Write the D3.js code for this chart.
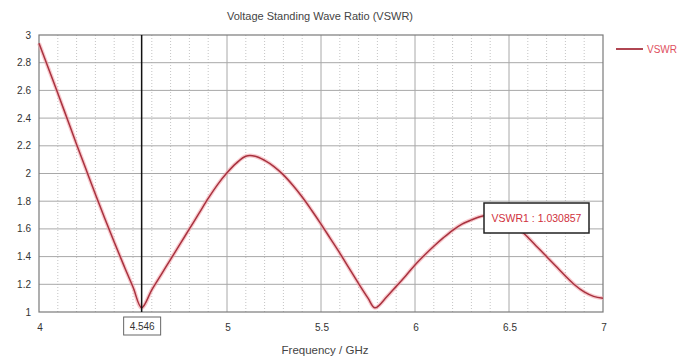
<!DOCTYPE html>
<html>
<head>
<meta charset="utf-8">
<script src="https://cdn.jsdelivr.net/npm/d3@7"></script>
<style>
  html, body { margin: 0; padding: 0; background: #fff; }
  svg { display: block; }
  text { font-family: "Liberation Sans", Arial, sans-serif; }
</style>
</head>
<body>
<svg id="chart" width="678" height="360"></svg>
<script>
// VSWR sweep, 4–7 GHz
const freqGHz = [4.00, 4.05, 4.10, 4.15, 4.20, 4.25, 4.30, 4.35, 4.40, 4.45, 4.50, 4.546,
  4.60, 4.65, 4.70, 4.75, 4.80, 4.85, 4.90, 4.95, 5.00, 5.05, 5.10, 5.15, 5.20, 5.25,
  5.30, 5.35, 5.40, 5.45, 5.50, 5.55, 5.60, 5.65, 5.70, 5.75, 5.787, 5.85, 5.90, 5.95,
  6.00, 6.05, 6.10, 6.15, 6.20, 6.25, 6.30, 6.35, 6.40, 6.45, 6.50, 6.55, 6.60, 6.65,
  6.70, 6.75, 6.80, 6.85, 6.90, 6.95, 7.00];
const vswr = [2.94, 2.76, 2.58, 2.395, 2.21, 2.03, 1.85, 1.675, 1.505, 1.34, 1.18, 1.030857,
  1.16, 1.27, 1.38, 1.49, 1.60, 1.71, 1.82, 1.92, 2.005, 2.075, 2.125, 2.125, 2.095, 2.05,
  1.99, 1.915, 1.83, 1.735, 1.635, 1.53, 1.425, 1.315, 1.205, 1.10, 1.03, 1.11, 1.185, 1.26,
  1.34, 1.41, 1.475, 1.535, 1.59, 1.635, 1.665, 1.69, 1.70, 1.69, 1.66, 1.605, 1.54, 1.47,
  1.40, 1.33, 1.26, 1.195, 1.145, 1.113, 1.10];

const xTicks = [4, 5, 5.5, 6, 6.5, 7];
const yTicks = [1, 1.2, 1.4, 1.6, 1.8, 2, 2.2, 2.4, 2.6, 2.8, 3];
const markerFreq = 4.546;
const markerValue = 1.030857;
const markerName = "VSWR1";

const svg = d3.select("#chart");
const m = { left: 39, right: 603, top: 35, bottom: 312 };

const x = d3.scaleLinear().domain([4, 7]).range([m.left, m.right]);
const y = d3.scaleLinear().domain([1, 3]).range([m.bottom, m.top]);

// minor vertical grid (0.1 GHz, dotted)
const minor = d3.range(41, 70).map(d => d / 10).filter(d => Math.abs(d * 2 - Math.round(d * 2)) > 1e-6 || d === 4.5);
svg.append("g").selectAll("line").data(minor).join("line")
  .attr("x1", d => x(d)).attr("x2", d => x(d))
  .attr("y1", m.top).attr("y2", m.bottom)
  .attr("stroke", "#c4c4c4").attr("stroke-width", 1)
  .attr("stroke-dasharray", "1,2");

// major vertical grid
svg.append("g").selectAll("line").data([5, 5.5, 6, 6.5]).join("line")
  .attr("x1", d => x(d)).attr("x2", d => x(d))
  .attr("y1", m.top).attr("y2", m.bottom)
  .attr("stroke", "#a8a8a8").attr("stroke-width", 1);

// horizontal grid
svg.append("g").selectAll("line").data(yTicks.slice(1, -1)).join("line")
  .attr("x1", m.left).attr("x2", m.right)
  .attr("y1", d => y(d)).attr("y2", d => y(d))
  .attr("stroke", "#a8a8a8").attr("stroke-width", 1);

// frame
svg.append("rect")
  .attr("x", m.left).attr("y", m.top)
  .attr("width", m.right - m.left).attr("height", m.bottom - m.top)
  .attr("fill", "none").attr("stroke", "#7a7a7a").attr("stroke-width", 1.2);

// y axis labels
svg.append("g").selectAll("text").data(yTicks).join("text")
  .attr("x", 31).attr("y", d => y(d) + 3.5)
  .attr("text-anchor", "end").attr("font-size", 10).attr("fill", "#333")
  .text(d => d3.format("~g")(d));

// x axis labels
svg.append("g").selectAll("text").data(xTicks).join("text")
  .attr("x", d => x(d) + 1).attr("y", 331)
  .attr("text-anchor", "middle").attr("font-size", 10).attr("fill", "#333")
  .text(d => d3.format("~g")(d));

// curve
const pts = freqGHz.map((f, i) => [f, vswr[i]]);
const line = d3.line().x(d => x(d[0])).y(d => y(d[1])).curve(d3.curveCatmullRom.alpha(0.5));
svg.append("path").datum(pts).attr("d", line)
  .attr("fill", "none").attr("stroke", "#f3a6ae").attr("stroke-width", 4).attr("opacity", 0.6);
svg.append("path").datum(pts).attr("d", line)
  .attr("fill", "none").attr("stroke", "#a8323f").attr("stroke-width", 1.5);

// marker line
svg.append("line")
  .attr("x1", x(markerFreq)).attr("x2", x(markerFreq))
  .attr("y1", m.top).attr("y2", m.bottom)
  .attr("stroke", "#111").attr("stroke-width", 1.5);

// marker frequency box under the axis
const mx = x(markerFreq);
svg.append("rect").attr("x", mx - 18).attr("y", 317).attr("width", 37).attr("height", 18)
  .attr("fill", "#fff").attr("stroke", "#666").attr("stroke-width", 1);
svg.append("text").attr("x", mx + 0.5).attr("y", 330)
  .attr("text-anchor", "middle").attr("font-size", 10).attr("fill", "#333")
  .text(d3.format(".3f")(markerFreq));

// marker readout box
svg.append("rect").attr("x", 484).attr("y", 203).attr("width", 105).attr("height", 30)
  .attr("fill", "#fff").attr("stroke", "#222").attr("stroke-width", 1.5);
svg.append("text").attr("x", 536.5).attr("y", 222)
  .attr("text-anchor", "middle").attr("font-size", 10.5).attr("fill", "#d0303c")
  .text(`${markerName} : ${markerValue}`);

// title and axis label
svg.append("text").attr("x", 320).attr("y", 20)
  .attr("text-anchor", "middle").attr("font-size", 11).attr("fill", "#444")
  .text("Voltage Standing Wave Ratio (VSWR)");
svg.append("text").attr("x", 325).attr("y", 354)
  .attr("text-anchor", "middle").attr("font-size", 11.5).attr("fill", "#444")
  .text("Frequency / GHz");

// legend
svg.append("line").attr("x1", 616).attr("x2", 643).attr("y1", 49).attr("y2", 49)
  .attr("stroke", "#a8323f").attr("stroke-width", 1.8);
svg.append("text").attr("x", 647).attr("y", 52.5)
  .attr("font-size", 10).attr("fill", "#e05060")
  .text("VSWR");
</script>
</body>
</html>
